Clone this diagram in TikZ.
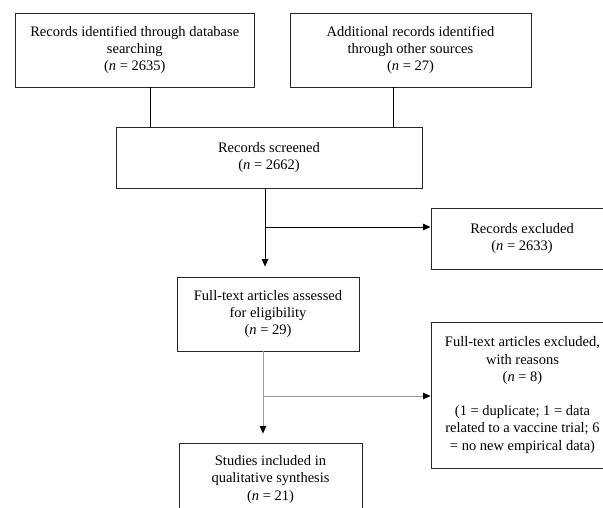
\documentclass[tikz,border=0pt]{standalone}
\usepackage{fontspec}
\setmainfont{Liberation Serif}
\usetikzlibrary{arrows.meta}
\begin{document}
\begin{tikzpicture}[x=1pt,y=-1pt,
  box/.style={draw=black!85,line width=0.9pt,align=center,inner sep=0pt,
    font=\fontsize{14.5}{17.2}\selectfont},
  link/.style={draw=black,line width=0.8pt},
  glink/.style={draw=black!40,line width=0.8pt},
  tip/.style={-{Triangle[length=7.5pt,width=6.5pt,color=black]}}]
\useasboundingbox (0,0) rectangle (603,507);
\clip (0,0) rectangle (603,507);
\fill[white] (0,0) rectangle (603,507);
\node[box,minimum width=238.5pt,minimum height=74pt] (b1) at (134.75,50)
  {Records identified through database\\searching\\(\textit{n} = 2635)};
\node[box,minimum width=241pt,minimum height=74pt] (b2) at (410.5,50)
  {Additional records identified\\through other sources\\(\textit{n} = 27)};
\node[box,minimum width=306pt,minimum height=61pt] (b3) at (269,157.5)
  {Records screened\\(\textit{n} = 2662)};
\node[box,minimum width=182pt,minimum height=61pt] (b4) at (522,238.5)
  {Records excluded\\(\textit{n} = 2633)};
\node[box,minimum width=182pt,minimum height=74pt] (b5) at (268,314)
  {Full-text articles assessed\\for eligibility\\(\textit{n} = 29)};
\node[box,minimum width=183pt,minimum height=146pt] (b6) at (522.5,395)
  {Full-text articles excluded,\\with reasons\\(\textit{n} = 8)\\[17.2pt](1 = duplicate; 1 = data\\related to a vaccine trial; 6\\= no new empirical data)};
\node[box,minimum width=183pt,minimum height=73pt] (b7) at (270.5,479.5)
  {Studies included in\\qualitative synthesis\\(\textit{n} = 21)};
\coordinate (x1) at (150,0);
\coordinate (x2) at (393.5,0);
\coordinate (j1) at (265,227);
\coordinate (j2) at (263,396);
\draw[link] (b1.south -| x1) -- (b3.north -| x1);
\draw[link] (b2.south -| x2) -- (b3.north -| x2);
\draw[link,tip,shorten >=10pt] (b3.south -| j1) -- (b5.north -| j1);
\draw[link,tip] (j1) -- (j1 -| b4.west);
\draw[glink,tip,shorten >=9pt] (b5.south -| j2) -- (b7.north -| j2);
\draw[glink,tip] (j2) -- (j2 -| b6.west);
\end{tikzpicture}
\end{document}
